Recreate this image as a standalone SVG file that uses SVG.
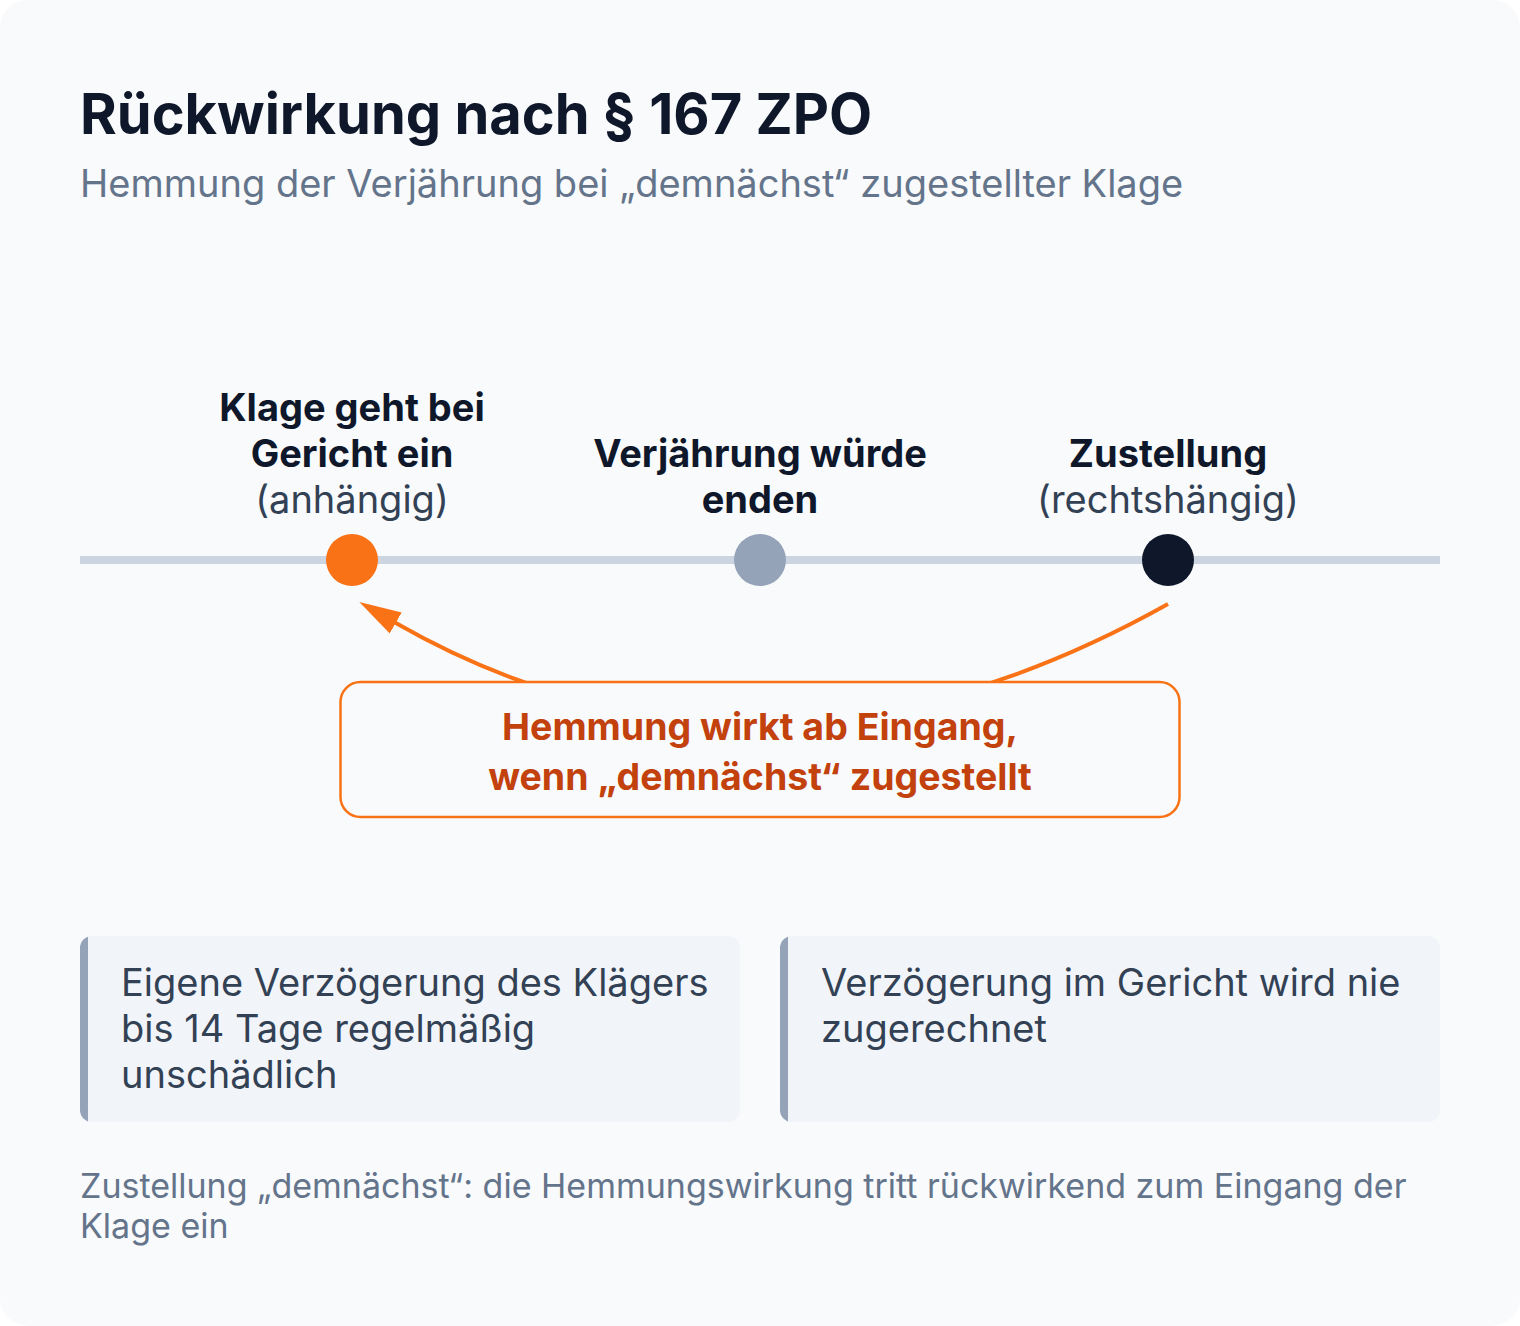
<svg xmlns="http://www.w3.org/2000/svg" width="1520" height="1326" viewBox="0 0 1520 1326">
<style>
text{font-family:Inter,"Noto Sans","Liberation Sans",sans-serif;}
.title{font-size:56px;font-weight:700;fill:#0f172a;}
.sub{font-size:38px;fill:#64748b;}
.lb{font-size:38px;font-weight:700;fill:#0f172a;text-anchor:middle;}
.lr{font-size:38px;fill:#334155;text-anchor:middle;}
.box{font-size:37.5px;font-weight:700;fill:#c2410c;text-anchor:middle;}
.card{font-size:38px;fill:#334155;}
.foot{font-size:34px;fill:#64748b;}
</style>
<defs>
<marker id="ah" markerUnits="userSpaceOnUse" viewBox="0 -13 42 26" markerWidth="42" markerHeight="26" refX="2" refY="0" orient="auto">
<path d="M0,-12 L42,0 L0,12 z" fill="#f97316"/>
</marker>
<clipPath id="c1"><rect x="80" y="936" width="660" height="186" rx="12"/></clipPath>
<clipPath id="c2"><rect x="780" y="936" width="660" height="186" rx="12"/></clipPath>
</defs>
<rect x="0" y="0" width="1520" height="1326" fill="#ffffff"/>
<rect x="0" y="0" width="1520" height="1326" rx="28" fill="#f8fafc"/>
<g id="header">
<text class="title" x="80" y="134">Rückwirkung nach § 167 ZPO</text>
<text class="sub" x="80" y="197">Hemmung der Verjährung bei „demnächst“ zugestellter Klage</text>
</g>
<g id="timeline">
<line x1="80" y1="560" x2="1440" y2="560" stroke="#cbd5e1" stroke-width="8"/>
</g>
<g id="connectors">
<path d="M1168,604 Q760,832 394,622" fill="none" stroke="#f97316" stroke-width="4" marker-end="url(#ah)"/>
</g>
<g id="node-eingang">
<circle cx="352" cy="560" r="26" fill="#f97316"/>
<text class="lb" x="352" y="421">Klage geht bei</text>
<text class="lb" x="352" y="467">Gericht ein</text>
<text class="lr" x="352" y="513">(anhängig)</text>
</g>
<g id="node-verjaehrung">
<circle cx="760" cy="560" r="26" fill="#94a3b8"/>
<text class="lb" x="760" y="467">Verjährung würde</text>
<text class="lb" x="760" y="513">enden</text>
</g>
<g id="node-zustellung">
<circle cx="1168" cy="560" r="26" fill="#0f172a"/>
<text class="lb" x="1168" y="467">Zustellung</text>
<text class="lr" x="1168" y="513">(rechtshängig)</text>
</g>
<g id="node-hemmung">
<rect x="340.5" y="682" width="839" height="135" rx="20" fill="#f8fafc" stroke="#f97316" stroke-width="2.5"/>
<text class="box" x="760" y="740">Hemmung wirkt ab Eingang,</text>
<text class="box" x="760" y="790">wenn „demnächst“ zugestellt</text>
</g>
<g id="card-1">
<rect x="80" y="936" width="660" height="186" rx="12" fill="#f1f5f9"/>
<rect x="80" y="936" width="8" height="186" fill="#94a3b8" clip-path="url(#c1)"/>
<text class="card" x="121" y="996">Eigene Verzögerung des Klägers</text>
<text class="card" x="121" y="1042">bis 14 Tage regelmäßig</text>
<text class="card" x="121" y="1088">unschädlich</text>
</g>
<g id="card-2">
<rect x="780" y="936" width="660" height="186" rx="12" fill="#f1f5f9"/>
<rect x="780" y="936" width="8" height="186" fill="#94a3b8" clip-path="url(#c2)"/>
<text class="card" x="821" y="996">Verzögerung im Gericht wird nie</text>
<text class="card" x="821" y="1042">zugerechnet</text>
</g>
<g id="footer">
<text class="foot" x="80" y="1198">Zustellung „demnächst“: die Hemmungswirkung tritt rückwirkend zum Eingang der</text>
<text class="foot" x="80" y="1238">Klage ein</text>
</g>
</svg>
